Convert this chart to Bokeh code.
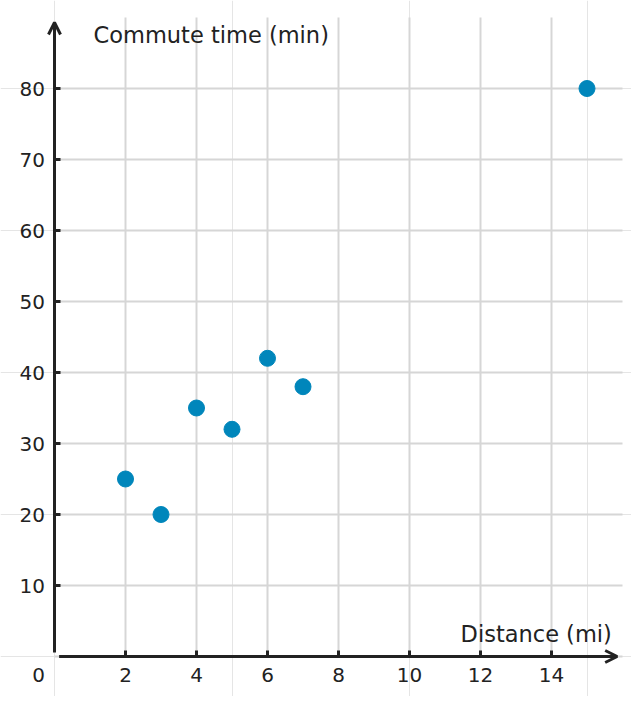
from bokeh.plotting import figure
from bokeh.models import Arrow, OpenHead, Grid, FixedTicker
from bokeh.core.properties import value
from bokeh.embed import file_html
from bokeh.resources import INLINE

# Data
distance = [2, 3, 4, 5, 6, 7, 15]
commute = [25, 20, 35, 32, 42, 38, 80]
x_ticks = [2, 4, 6, 8, 10, 12, 14]
y_ticks = [10, 20, 30, 40, 50, 60, 70, 80]
x_tick_labels = ["2", "4", "6", "8", "10", "12", "14"]
y_tick_labels = ["10", "20", "30", "40", "50", "60", "70", "80"]
origin_label = "0"
x_title = "Distance (mi)"
y_title = "Commute time (min)"

INK = "#222222"
GRID = "#d6d6d6"
BLUE = "#0086BB"
FONT = "DejaVu Sans"

W, H = 631, 696
OX, OY = 54, 656          # pixel position of the origin
SX, SY = 35.5, 7.1        # pixels per unit

p = figure(width=W, height=H,
           x_range=(-OX / SX, (W - OX) / SX), y_range=(-(H - OY) / SY, OY / SY),
           x_axis_location=None, y_axis_location=None,
           output_backend="svg", toolbar_location=None,
           min_border=0)
p.outline_line_color = None
p.background_fill_color = "white"

# grid
p.add_layout(Grid(dimension=0, ticker=FixedTicker(ticks=x_ticks), cross_bounds=(0, 90),
                  grid_line_color=GRID, grid_line_width=2))
p.add_layout(Grid(dimension=1, ticker=FixedTicker(ticks=[0] + y_ticks), cross_bounds=(0, 16),
                  grid_line_color=GRID, grid_line_width=2))

# tick marks (pointing into the plot area)
TL = 6
p.segment(x0=x_ticks, x1=x_ticks, y0=[0] * len(x_ticks), y1=[TL / SY] * len(x_ticks),
          line_color=INK, line_width=3)
p.segment(x0=[0] * len(y_ticks), x1=[TL / SX] * len(y_ticks), y0=y_ticks, y1=y_ticks,
          line_color=INK, line_width=3)

# axis arrows
p.add_layout(Arrow(x_start=0.13, y_start=0, x_end=15.85, y_end=0,
                   line_color=INK, line_width=3,
                   end=OpenHead(size=12, line_color=INK, line_width=3)))
p.add_layout(Arrow(x_start=0, y_start=0.56, x_end=0, y_end=89.3,
                   line_color=INK, line_width=3,
                   end=OpenHead(size=12, line_color=INK, line_width=3)))

# tick labels
p.text(x=x_ticks, y=[0] * len(x_ticks), text=x_tick_labels, y_offset=18,
       text_font=value(FONT), text_font_size="20px", text_color=INK,
       text_align="center", text_baseline="middle")
p.text(x=[0] * len(y_ticks), y=y_ticks, text=y_tick_labels, x_offset=-9.5,
       text_font=value(FONT), text_font_size="20px", text_color=INK,
       text_align="right", text_baseline="middle")
p.text(x=[0], y=[0], text=[origin_label], x_offset=-16, y_offset=18,
       text_font=value(FONT), text_font_size="20px", text_color=INK,
       text_align="center", text_baseline="middle")

# points
p.scatter(distance, commute, size=16, color=BLUE, line_color=BLUE)

# axis titles
p.text(x=[1.10], y=[86.2], text=[y_title], y_offset=-9, text_font=value(FONT),
       text_font_size="22.5px", text_color=INK, text_align="left", text_baseline="alphabetic")
p.text(x=[15.70], y=[1.83], text=[x_title], y_offset=-10, text_font=value(FONT),
       text_font_size="22.5px", text_color=INK, text_align="right", text_baseline="alphabetic")

open("out.html", "w").write(file_html(p, INLINE))
